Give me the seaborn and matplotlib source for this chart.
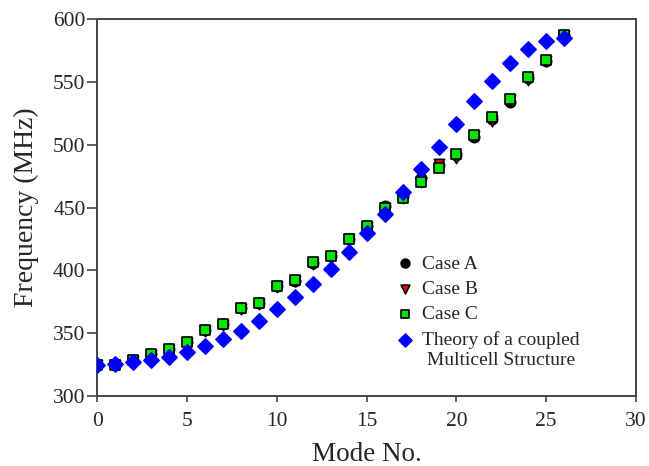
import matplotlib
matplotlib.use("Agg")
import matplotlib.pyplot as plt
import seaborn as sns
import pandas as pd

modes = list(range(27))
case_a = [325, 325, 328.6, 333.1, 337.1, 343.1, 352.2, 357.2, 369.7, 373.8, 387.3, 391.8, 405.9, 411.4,
          425.4, 435.0, 451.0, 459.0, 473.6, 484.0, 491.7, 506.2, 520.8, 534.4, 552.9, 566.9, 587.5]
case_b = [325, 325, 328.1, 332.6, 336.6, 342.6, 351.7, 356.7, 369.2, 373.3, 386.8, 391.3, 405.4, 410.4,
          424.9, 434.5, 449.5, 457.5, 470.6, 485.0, 489.7, 506.7, 519.3, 535.4, 551.4, 566.9, 587.0]
case_c = [325, 325, 328.6, 333.1, 337.1, 343.1, 352.2, 357.2, 369.7, 373.8, 387.3, 392.3, 406.4, 411.4,
          425.4, 435.0, 450.0, 458.0, 470.1, 481.6, 492.7, 507.7, 521.8, 536.4, 553.9, 567.4, 587.5]
theory = [324.7, 325.5, 326.8, 328.4, 331.3, 335.0, 339.8, 345.4, 351.8, 359.7, 369.0, 378.6,
          389.2, 401.3, 414.7, 429.5, 444.9, 462.5, 480.8, 498.3, 516.6, 534.8, 551.2, 564.9,
          576.0, 583.0, 584.9]

labels = ["Case A", "Case B", "Case C", "Theory of a coupled\n Multicell Structure"]
xticks = [0, 5, 10, 15, 20, 25, 30]
yticks = [300, 350, 400, 450, 500, 550, 600]

sns.set_theme(style="white")
plt.rcParams['font.family'] = ['Liberation Serif', 'DejaVu Serif']

fig = plt.figure(figsize=(6.49, 4.66), dpi=100)
ax = fig.add_axes([0.15, 0.1502, 0.830, 0.8084])

styles = [
    (case_a, "o", "black", "black", 55),
    (case_b, "v", "#ff0000", "black", 55),
    (case_c, "s", "#00e600", "black", 55),
    (theory, "D", "#0000ff", "#0000ff", 60),
]
for (vals, mk, fc, ec, s), lab in zip(styles, labels):
    df = pd.DataFrame({"Mode": modes, "Freq": vals})
    sns.scatterplot(data=df, x="Mode", y="Freq", marker=mk, color=fc, edgecolor=ec,
                    linewidth=1.2, s=s, ax=ax, label=lab, zorder=3)

ax.set_xlim(0, 30)
ax.set_ylim(300, 600)
ax.set_xticks(xticks)
ax.set_yticks(yticks)
ax.set_xlabel("Mode No.", fontsize=19.5, labelpad=8)
ax.set_ylabel("Frequency (MHz)", fontsize=20, labelpad=10)
ax.tick_params(axis="both", labelsize=15.5, direction="out", width=1.2,
               color="#444444", bottom=True, left=True, top=False, right=False)
ax.tick_params(axis="x", length=4.5, pad=7)
ax.tick_params(axis="y", length=7, pad=1.5)
for sp in ax.spines.values():
    sp.set_color("#444444")
    sp.set_linewidth(1.4)
ax.grid(False)

leg = ax.legend(loc="upper left", bbox_to_anchor=(0.528, 0.395), frameon=False,
                fontsize=14, handletextpad=0.1, handlelength=1.55, labelspacing=0.4,
                borderaxespad=0, markerscale=0.85)
# align the theory marker with the first line of its two-line label
h = leg.legend_handles[3]
off = h.get_offsets().copy()
off[:, 1] += 8
h.set_offsets(off)

fig.savefig("out.png", dpi=100)
